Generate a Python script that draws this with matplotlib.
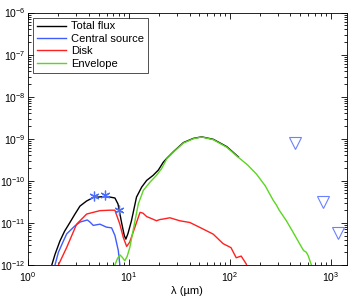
import matplotlib
matplotlib.use("Agg")
import matplotlib.pyplot as plt

plt.rcParams['font.family'] = ['Liberation Sans', 'DejaVu Sans']
plt.rcParams['mathtext.fontset'] = 'custom'
plt.rcParams['mathtext.rm'] = 'Liberation Sans'

# wavelengths in micron, fluxes
total_lam = [1.68, 1.72, 1.85, 2.07, 2.3, 2.6, 2.9, 3.27, 3.8, 4.43, 5.5, 6.5, 7.27,
             7.8, 8.47, 9.0, 9.33, 9.8, 10.6, 11.9, 13.4, 15.0, 17.4, 19.6, 21.9,
             23.7, 27.6, 34.7, 43.6, 52.7, 68.7, 93.4, 122]
total_flux = [8e-13, 1.0e-12, 1.78e-12, 3.7e-12, 6.3e-12, 1.02e-11, 1.58e-11, 2.5e-11,
              3.3e-11, 4.0e-11, 4.2e-11, 4.1e-11, 3.9e-11, 2.8e-11, 1.0e-11, 5.0e-12,
              4.1e-12, 5.6e-12, 1.12e-11, 4.1e-11, 7.1e-11, 1.02e-10, 1.35e-10, 1.8e-10,
              2.75e-10, 3.4e-10, 4.9e-10, 8.1e-10, 1.02e-9, 1.11e-9, 9.7e-10, 6.5e-10, 3.7e-10]

central_lam = [1.8, 1.85, 2.0, 2.24, 2.42, 2.92, 3.3, 3.87, 4.1, 4.43, 5.16, 6.0, 6.74,
               7.27, 7.85, 8.13, 8.3]
central_flux = [7.9e-13, 1.0e-12, 2.0e-12, 3.7e-12, 5.5e-12, 8.5e-12, 1.05e-11, 1.17e-11,
                1.05e-11, 8.7e-12, 9.3e-12, 7.9e-12, 7.6e-12, 5.0e-12, 2.2e-12, 1.0e-12, 7.9e-13]

disk_lam = [1.95, 2.0, 2.41, 3.03, 3.81, 5.16, 6.5, 7.27, 8.13, 8.8, 9.5, 10.2, 11.0,
            12.9, 13.8, 15.0, 16.8, 18.8, 20.3, 21.8, 25.5, 32, 40.2, 50.5, 68.5, 86,
            103, 116, 130, 146, 150]
disk_flux = [7.9e-13, 1.0e-12, 2.57e-12, 9.3e-12, 1.62e-11, 1.95e-11, 2.0e-11, 2.0e-11,
             9.3e-12, 4.5e-12, 2.75e-12, 3.5e-12, 5.9e-12, 1.78e-11, 1.7e-11, 1.41e-11,
             1.26e-11, 1.12e-11, 1.2e-11, 1.23e-11, 1.32e-11, 1.12e-11, 1.02e-11, 7.8e-12,
             5.4e-12, 3.2e-12, 2.57e-12, 1.48e-12, 1.62e-12, 1.05e-12, 7.9e-13]

env_lam = [7.2, 7.27, 7.7, 8.13, 8.6, 9.1, 9.6, 10.2, 11.5, 12.4, 13.9, 16.2, 18.8, 21.1,
           23.7, 27.6, 34.7, 43.6, 52.7, 68.7, 93.4, 122, 150, 184, 225, 269, 292, 310,
           365, 420, 493, 540, 575, 600, 646, 680]
env_flux = [8e-13, 1.0e-12, 1.41e-12, 1.74e-12, 1.51e-12, 1.26e-12, 1.58e-12, 2.57e-12,
            1.12e-11, 2.82e-11, 5.9e-11, 9.3e-11, 1.35e-10, 1.95e-10, 3.3e-10, 4.8e-10,
            7.9e-10, 1.0e-9, 1.1e-9, 9.5e-10, 6.3e-10, 3.6e-10, 2.4e-10, 1.45e-10, 7.6e-11,
            3.5e-11, 2.6e-11, 2.0e-11, 1.12e-11, 6.3e-12, 3.2e-12, 2.2e-12, 2.0e-12,
            1.66e-12, 1.0e-12, 7e-13]

irac_lam = [4.5, 5.8, 8.0]
irac_flux = [4.3e-11, 4.6e-11, 2.0e-11]

limit_lam = [440, 840, 1180]
limit_flux = [7.8e-10, 3.2e-11, 5.6e-12]

fig = plt.figure(figsize=(3.51, 3.0), dpi=100)
ax = fig.add_axes([0.08, 0.117, 0.908, 0.841])

ax.plot(total_lam, total_flux, color='black', lw=1, label='Total flux')
ax.plot(central_lam, central_flux, color='#3f5cff', lw=1, label='Central source')
ax.plot(disk_lam, disk_flux, color='#ff2020', lw=1, label='Disk')
ax.plot(env_lam, env_flux, color='#5cd621', lw=1, label='Envelope')

ax.plot(irac_lam, irac_flux, ls='none', marker=(6, 2, 0), ms=7, mew=0.9, color='#4a6cff')
ax.plot(limit_lam, limit_flux, ls='none', marker='v', ms=8, mfc='none', mew=0.8, color='#6a80ff')

ax.set_xscale('log')
ax.set_yscale('log')
ax.set_xlim(1, 1450)
ax.set_ylim(1e-12, 1e-6)
ax.set_xlabel('λ (µm)', fontsize=8, labelpad=1)

ax.tick_params(which='both', direction='in', top=True, right=True, labelsize=7.5, width=0.6)
ax.tick_params(which='major', length=4)
ax.tick_params(which='minor', length=2)
ax.tick_params(axis='y', which='major', pad=1.5)
ax.tick_params(axis='x', which='major', pad=4)
for s in ax.spines.values():
    s.set_linewidth(0.6)

leg = ax.legend(loc='upper left', fontsize=8, frameon=True, fancybox=False,
                edgecolor='black', borderpad=0.35, handlelength=2.6, handletextpad=0.5,
                labelspacing=0.22, borderaxespad=0.45)
leg.get_frame().set_linewidth(0.6)

fig.savefig('out.png', dpi=100)
